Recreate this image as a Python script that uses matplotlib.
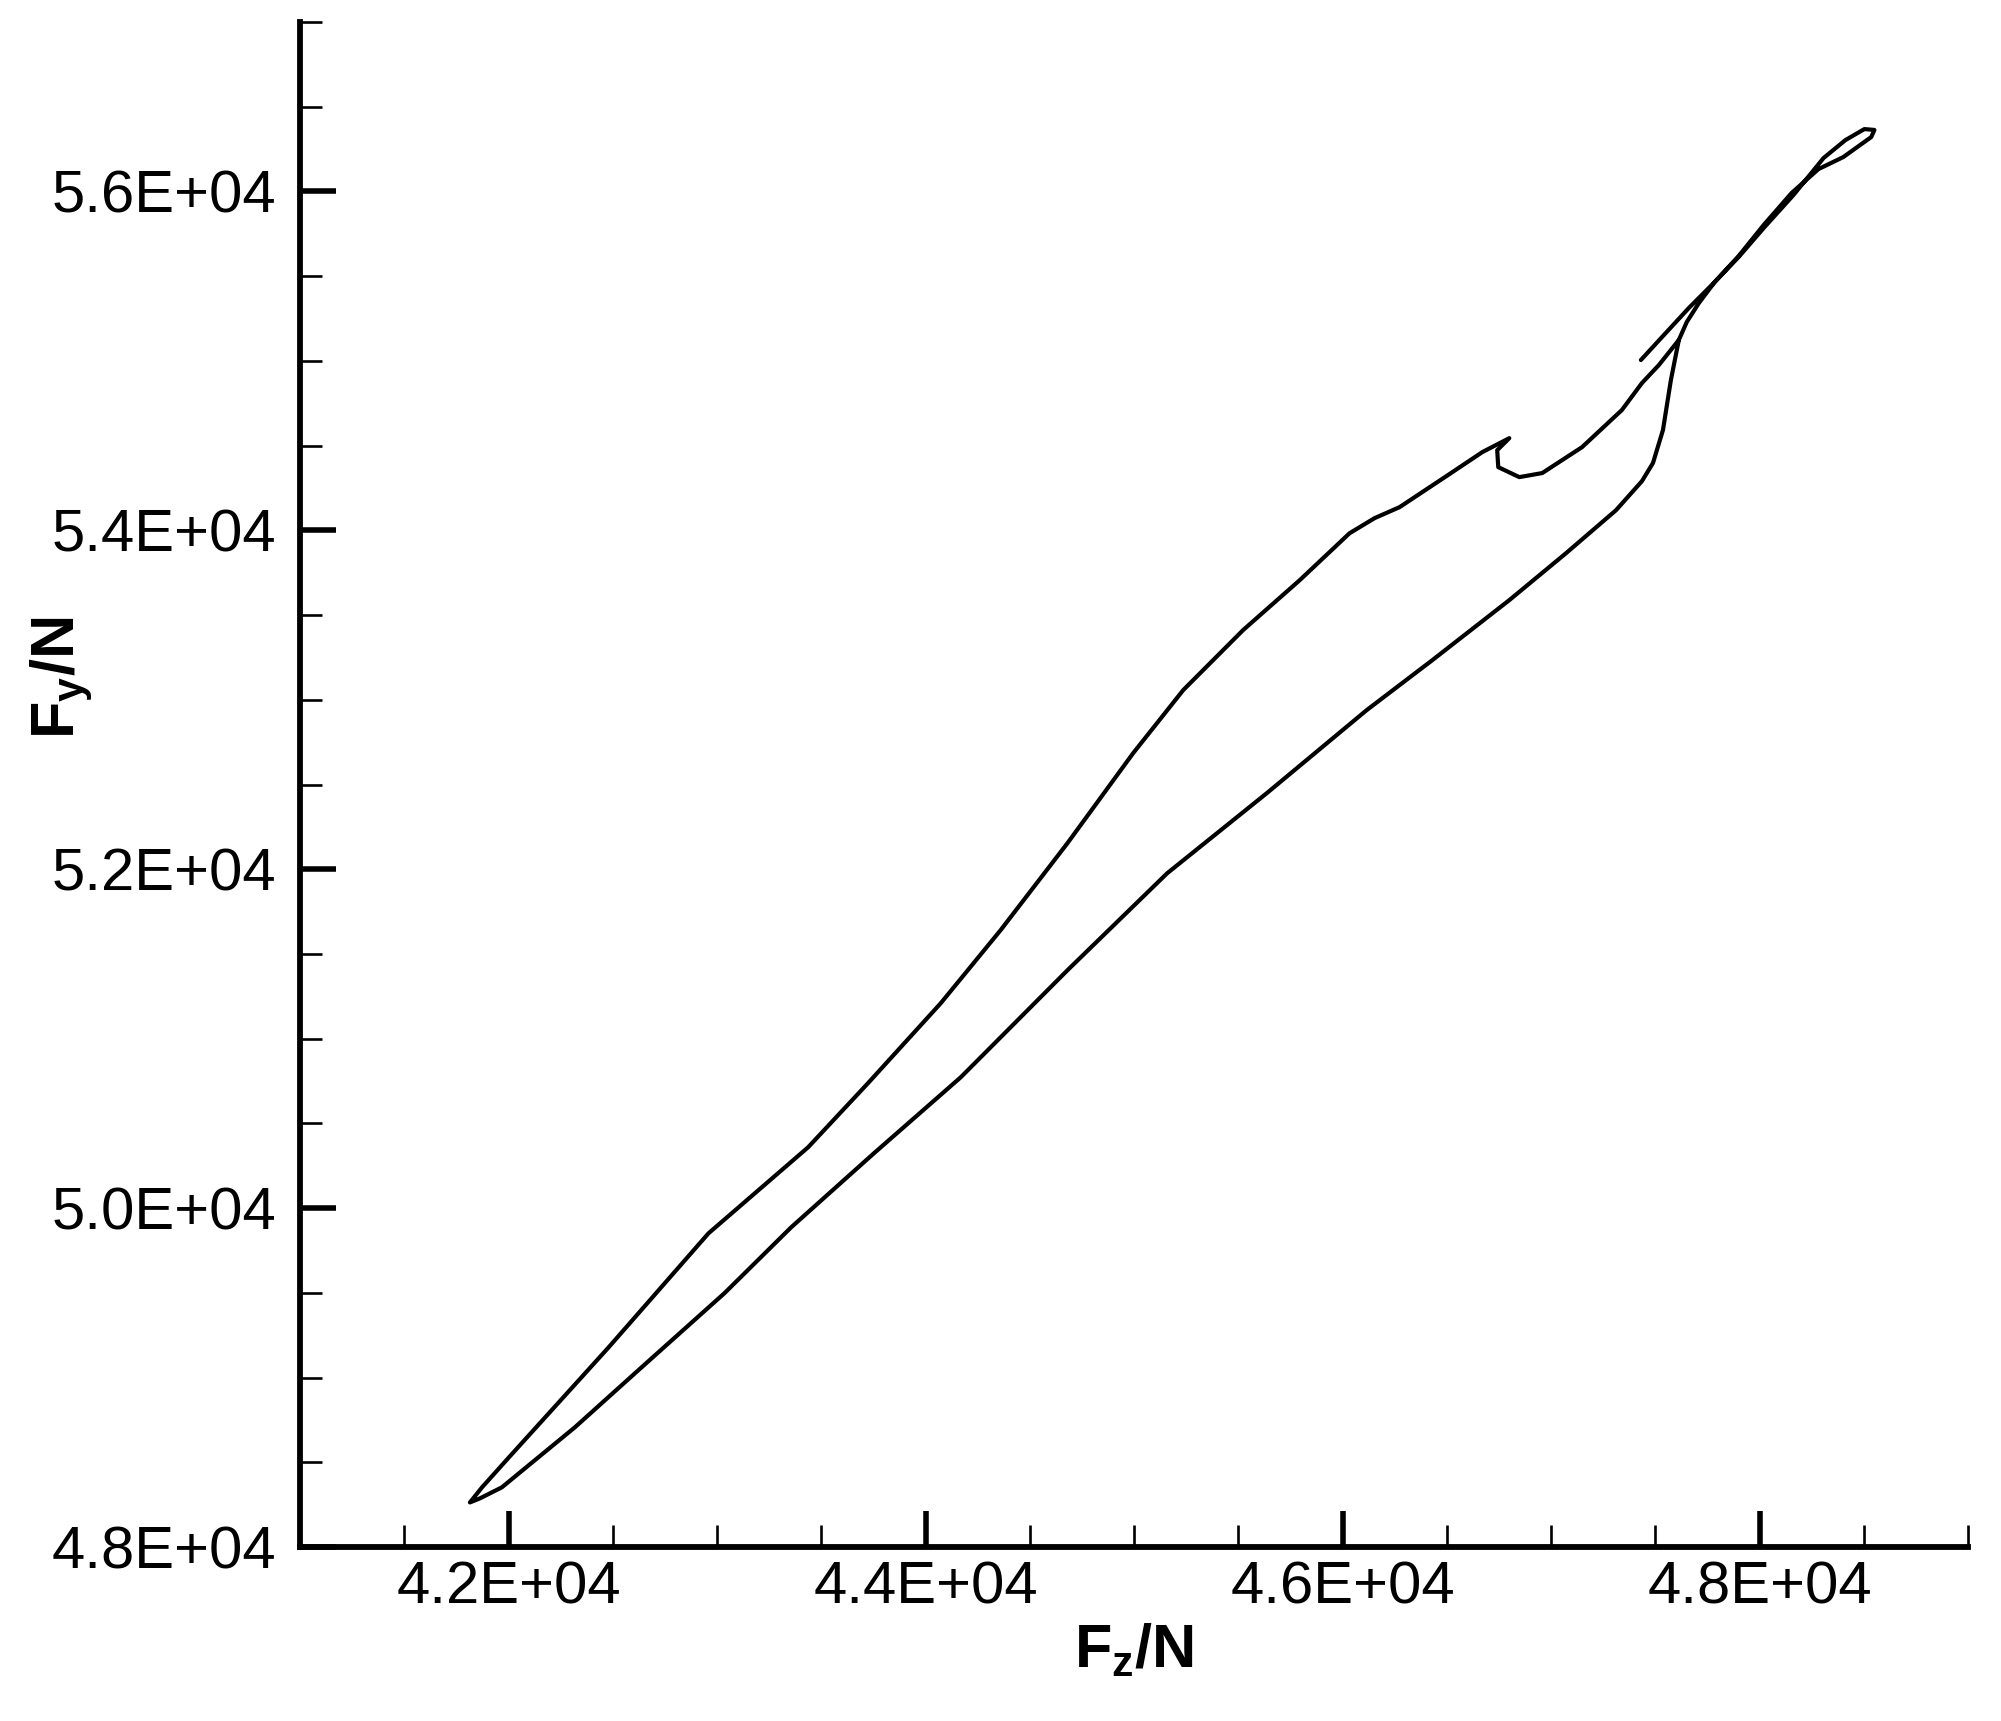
import matplotlib
matplotlib.use("Agg")
import matplotlib.pyplot as plt
from matplotlib.ticker import MultipleLocator, FuncFormatter

plt.rcParams['font.family'] = ['Liberation Sans', 'DejaVu Sans']
plt.rcParams['mathtext.fontset'] = 'custom'
plt.rcParams['mathtext.rm'] = 'Liberation Sans'
plt.rcParams['mathtext.bf'] = 'Liberation Sans:bold'
plt.rcParams['mathtext.it'] = 'Liberation Sans:italic'

# ---- data, F_z and F_y in N ----
fz = [47431, 47541, 47661, 47780, 47900, 48020, 48163, 48307, 48412, 48503,
      48551, 48536, 48402, 48283, 48154, 48020, 47900, 47785, 47709, 47651,
      47613, 47575, 47537, 47489, 47436, 47312, 47072, 46800, 46431, 46116,
      45637, 45159, 44681, 44169, 43753, 43356, 43035, 42638, 42318, 41968,
      41863, 41815, 41873, 42002, 42480, 42959, 43437, 43724, 44073, 44360,
      44681, 44996, 45236, 45523, 45795, 46034, 46154, 46274, 46513, 46671,
      46800, 46742, 46747, 46848, 46958, 47149, 47340, 47436, 47517, 47613]
fy = [55005, 55152, 55312, 55459, 55613, 55784, 55979, 56197, 56303, 56368,
      56363, 56321, 56203, 56132, 55991, 55802, 55619, 55465, 55341, 55229,
      55123, 54887, 54592, 54397, 54290, 54119, 53865, 53588, 53234, 52939,
      52449, 51976, 51404, 50772, 50324, 49887, 49497, 49060, 48706, 48352,
      48287, 48263, 48352, 48529, 49178, 49851, 50359, 50737, 51209, 51640,
      52154, 52685, 53057, 53411, 53706, 53983, 54072, 54137, 54332, 54462,
      54544, 54473, 54373, 54314, 54338, 54491, 54710, 54869, 54975, 55123]

x_limits = [41000, 49000]
y_limits = [48000, 57000]
x_label = r'$\mathbf{F_z/N}$'
y_label = r'$\mathbf{F_y/N}$'

W, H = 2001, 1721
fig = plt.figure(figsize=(W / 100, H / 100), dpi=100)
ax = fig.add_axes([300 / W, 1 - 1547 / H, (1968 - 300) / W, (1547 - 22) / H])

ax.plot(fz, fy, color='black', lw=3.0, solid_joinstyle='round',
        solid_capstyle='round')

ax.set_xlim(*x_limits)
ax.set_ylim(*y_limits)
ax.xaxis.set_major_locator(MultipleLocator(2000))
ax.xaxis.set_minor_locator(MultipleLocator(500))
ax.yaxis.set_major_locator(MultipleLocator(2000))
ax.yaxis.set_minor_locator(MultipleLocator(500))
fmt = FuncFormatter(lambda v, p: f"{v:.1E}")
ax.xaxis.set_major_formatter(fmt)
ax.yaxis.set_major_formatter(fmt)

for s in ['top', 'right']:
    ax.spines[s].set_visible(False)
for s in ['left', 'bottom']:
    ax.spines[s].set_linewidth(4.2)
    ax.spines[s].set_capstyle('projecting')

ax.tick_params(which='major', direction='in', length=26, width=4.0,
               labelsize=43, color='black')
ax.tick_params(which='minor', direction='in', length=16, width=1.9,
               color='black')
ax.tick_params(axis='x', which='major', pad=10)
ax.tick_params(axis='y', which='major', pad=17)

fig.text(1134 / W, 1 - 1667 / H, x_label, fontsize=44, ha='center',
         va='baseline')
fig.text(74 / W, 1 - 678 / H, y_label, fontsize=44, ha='center',
         va='baseline', rotation=90, rotation_mode='anchor')

fig.savefig('out.png', dpi=100, facecolor='white')
